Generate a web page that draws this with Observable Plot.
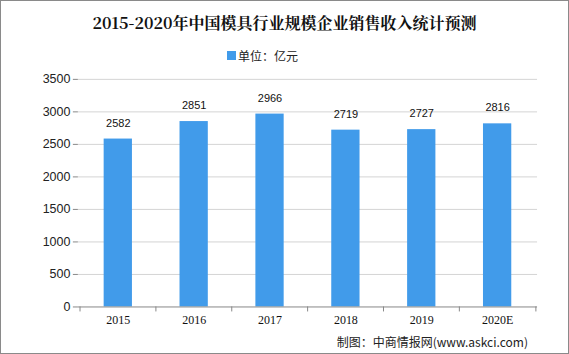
<!DOCTYPE html>
<html>
<head>
<meta charset="utf-8">
<script src="https://cdn.jsdelivr.net/npm/d3@7"></script>
<script src="https://cdn.jsdelivr.net/npm/@observablehq/plot@0.6"></script>
<style>
  html, body { margin: 0; padding: 0; background: #fff; }
  #wrap { position: relative; width: 567px; height: 352px; border: 1px solid #8a8a8a; overflow: hidden; font-family: "Noto Sans CJK SC", "Liberation Sans", sans-serif; }
  #chart { position: absolute; left: -1px; top: -1px; }
  #title { position: absolute; left: 0; width: 567px; top: 10px; text-align: center; font-size: 16px; font-weight: bold; color: #111; font-family: "Noto Serif CJK SC", "Noto Sans CJK SC", serif; }
  #legend { position: absolute; left: 226px; top: 46px; font-size: 12px; color: #222; display: flex; align-items: center; }
  #legend span.sw { display: inline-block; width: 9px; height: 9px; background: #419BEA; margin-right: 2px; }
  #caption { position: absolute; right: 40px; top: 332px; font-size: 12px; color: #222; }
</style>
</head>
<body>
<div id="wrap">
  <div id="chart"></div>
  <div id="title">2015-2020年中国模具行业规模企业销售收入统计预测</div>
  <div id="legend"><span class="sw"></span>单位：亿元</div>
  <div id="caption">制图：中商情报网(www.askci.com)</div>
</div>
<script>
const years = ["2015", "2016", "2017", "2018", "2019", "2020E"];
const values = [2582, 2851, 2966, 2719, 2727, 2816];
const yTicks = [0, 500, 1000, 1500, 2000, 2500, 3000, 3500];

const data = years.map((y, i) => ({year: y, value: values[i]}));
const W = 569, H = 354, mL = 78, mR = 31, mT = 79, mB = 47;
const step = (W - mL - mR) / years.length;
const barW = 29;
const inset = (step - barW) / 2;

const chart = Plot.plot({
  width: W,
  height: H,
  marginLeft: mL,
  marginRight: mR,
  marginTop: mT,
  marginBottom: mB,
  style: {fontFamily: "'Liberation Sans', Arial, sans-serif", fontSize: "12px", color: "#222", background: "transparent"},
  x: {domain: years, padding: 0, label: null},
  y: {domain: [0, 3500], label: null},
  marks: [
    Plot.gridY(yTicks.filter(d => d > 0), {stroke: "#d4d4d4", strokeOpacity: 1}),
    Plot.barY(data, {x: "year", y: "value", fill: "#419BEA", insetLeft: inset, insetRight: inset}),
    Plot.text(data, {x: "year", y: "value", text: d => String(d.value), dy: -16, fontSize: 11, fill: "#111"}),
    Plot.axisY({ticks: yTicks, tickFormat: d => String(d), tickSize: 5, tickPadding: 3, stroke: "#888", line: true, fontSize: 12.5, fill: "#222", label: null}),
    Plot.ruleY([0], {stroke: "#888"}),
    Plot.axisX({tickSize: 0, tickPadding: 9, fontSize: 12, fill: "#111", fontFamily: "'Liberation Serif', serif", label: null}),
    Plot.axisX({tickSize: 5, tickFormat: () => "", dx: -step / 2, stroke: "#888", label: null}),
    Plot.axisX({ticks: [years[years.length - 1]], tickSize: 5, tickFormat: () => "", dx: step / 2, stroke: "#888", label: null})
  ]
});
document.getElementById("chart").appendChild(chart);
</script>
</body>
</html>
